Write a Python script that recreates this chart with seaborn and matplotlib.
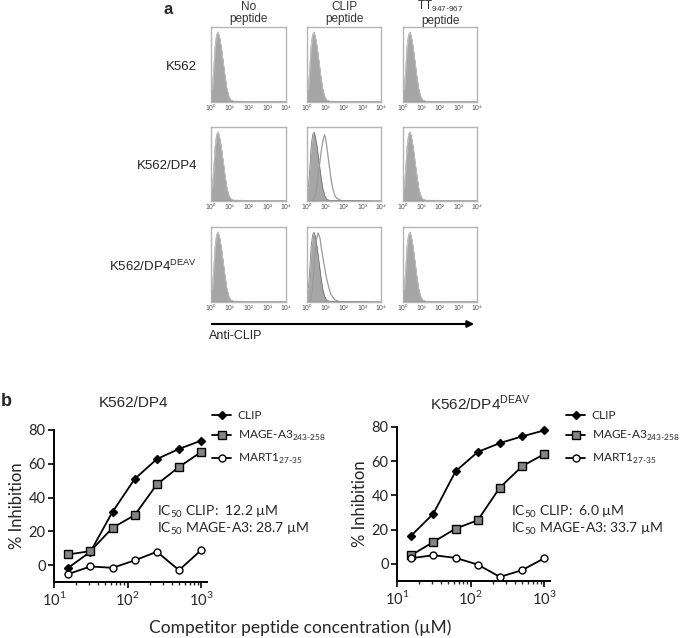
import matplotlib
matplotlib.use("Agg")
import matplotlib.pyplot as plt
import seaborn as sns

# ---- panel b data ----
conc = [15.6, 31.25, 62.5, 125, 250, 500, 1000]
dp4_clip = [-1.6, 7.9, 31.6, 51.0, 62.8, 68.8, 73.7]
dp4_mage = [6.3, 8.3, 22.1, 29.6, 47.8, 58.1, 67.0]
dp4_mart = [-5.3, -0.8, -1.6, 2.8, 7.9, -3.0, 8.9]
deav_clip = [16.5, 29.4, 54.1, 65.4, 70.6, 74.5, 78.0]
deav_mage = [5.1, 12.8, 20.6, 25.5, 44.6, 57.0, 64.2]
deav_mart = [3.3, 5.1, 3.5, -0.4, -7.6, -3.7, 3.3]
ic50_dp4 = ["12.2", "28.7"]
ic50_deav = ["6.0", "33.7"]

# ---- panel a data: histogram outlines (log10 fluorescence, relative count) ----
ctrl_x = [0.0, 0.08, 0.15, 0.22, 0.3, 0.38, 0.45, 0.55, 0.65, 0.75, 0.85, 0.95, 1.05, 1.2, 4.0]
ctrl_h = [0.16, 0.2, 0.45, 0.75, 0.92, 0.96, 0.9, 0.75, 0.55, 0.35, 0.18, 0.08, 0.03, 0.01, 0.0]
dp4_clip_x = [0.3, 0.4, 0.5, 0.6, 0.7, 0.8, 0.9, 0.95, 1.0, 1.1, 1.2, 1.3, 1.4, 1.5, 1.6, 1.8, 2.0]
dp4_clip_h = [0.0, 0.05, 0.15, 0.35, 0.55, 0.75, 0.88, 0.92, 0.88, 0.7, 0.5, 0.3, 0.17, 0.08, 0.04, 0.01, 0.0]
deav_clip_x = [0.2, 0.3, 0.4, 0.5, 0.55, 0.6, 0.7, 0.8, 0.9, 1.0, 1.1, 1.2, 1.3, 1.5, 1.8]
deav_clip_h = [0.02, 0.2, 0.55, 0.85, 0.9, 0.95, 0.88, 0.7, 0.55, 0.4, 0.28, 0.18, 0.1, 0.03, 0.0]
row_names = ["K562", "K562/DP4", r"K562/DP4$^{\mathregular{DEAV}}$"]
col_names = ["No\npeptide", "CLIP\npeptide", r"TT$_{\mathregular{947}\text{-}\mathregular{967}}$" + "\npeptide"]
decade_labels = ["10⁰", "10¹", "10²", "10³", "10⁴"]

sns.set_theme(style="ticks")
plt.rcParams["font.family"] = ["Lato", "DejaVu Sans"]
plt.rcParams["mathtext.fontset"] = "custom"
plt.rcParams["mathtext.rm"] = "Lato"

W, H = 685, 638
fig = plt.figure(figsize=(W / 100, H / 100), dpi=100)


def add_ax(x0, y0, x1, y1):
    return fig.add_axes([x0 / W, 1 - y1 / H, (x1 - x0) / W, (y1 - y0) / H])


def ftext(x, y, s, **kw):
    return fig.text(x / W, 1 - y / H, s, **kw)


arial = ["Liberation Sans", "DejaVu Sans"]

# ---------------- panel a ----------------
ftext(168, 9, "a", fontsize=12, fontweight="bold", family=arial, ha="center", va="center")
col_x = [(211, 286), (307, 381), (403, 477)]
row_y = [(27, 102), (127, 201), (227, 302)]
for j, name in enumerate(col_names):
    ftext(sum(col_x[j]) / 2, 13, name, fontsize=8.5, family=arial, ha="center",
          va="center", linespacing=1.05, color="#333333")
for i, name in enumerate(row_names):
    ftext(197, sum(row_y[i]) / 2 + 2, name, fontsize=9.5, family=arial,
          ha="right", va="center", color="#222222")
    for j in range(3):
        ax = add_ax(col_x[j][0], row_y[i][0], col_x[j][1], row_y[i][1])
        ax.fill_between(ctrl_x, ctrl_h, color="#a6a6a6", lw=0)
        ax.plot(ctrl_x, ctrl_h, color="#6a6a6a", lw=0.5)
        if j == 1 and i == 1:
            ax.plot(dp4_clip_x, dp4_clip_h, color="#9a9a9a", lw=0.9)
        elif j == 1 and i == 2:
            ax.plot(deav_clip_x, deav_clip_h, color="#9a9a9a", lw=0.9)
        else:
            ax.plot(ctrl_x, ctrl_h, color="#c4c4c4", lw=0.7)
        ax.axhline(0, color="#555555", lw=1.0)
        ax.set_xlim(0, 4)
        ax.set_ylim(0, 1.03)
        ax.set_xticks(range(5))
        ax.set_xticklabels(decade_labels, fontsize=5, color="#555555", family=arial)
        ax.set_yticks([])
        ax.tick_params(axis="x", length=0, pad=2)
        for s in ax.spines.values():
            s.set_color("#b5b5b5")
            s.set_linewidth(1)
        ax.set_facecolor("white")

arr = fig.add_axes([0, 0, 1, 1], facecolor="none")
arr.set_axis_off()
arr.set_xlim(0, W)
arr.set_ylim(H, 0)
arr.annotate("", xy=(477, 324), xytext=(209, 324),
             arrowprops=dict(arrowstyle="-|>", color="black", lw=1.5, mutation_scale=10))
ftext(209, 336, "Anti-CLIP", fontsize=9, family=arial, ha="left", va="center")

# ---------------- panel b ----------------
ftext(6, 402, "b", fontsize=13, fontweight="bold", family=arial, ha="center", va="center")

styles = [
    ("CLIP", "D", "black", 4.5),
    (r"MAGE-A3$_{\mathregular{243}\text{-}\mathregular{258}}$", "s", "#858585", 5.5),
    (r"MART1$_{\mathregular{27}\text{-}\mathregular{35}}$", "o", "white", 5),
]

panels = [
    ((54, 430, 207, 582), "K562/DP4", 133, [dp4_clip, dp4_mage, dp4_mart], ic50_dp4, 157, 212),
    ((397, 427, 550, 581), r"K562/DP4$^{\mathregular{DEAV}}$", 480,
     [deav_clip, deav_mage, deav_mart], ic50_deav, 511, 566),
]

for box, title, tx, series, ic, icx, legx in panels:
    ax = add_ax(*box)
    for (lab, mk, fc, ms), vals in zip(styles, series):
        sns.lineplot(x=conc, y=vals, ax=ax, color="black", lw=1.3, marker=mk,
                     markersize=ms, markerfacecolor=fc, markeredgecolor="black",
                     markeredgewidth=1.0, label=lab, clip_on=False, zorder=3)
    ax.set_xscale("log")
    ax.set_xlim(10, 1200)
    ax.set_ylim(-10, 80)
    ax.set_yticks([0, 20, 40, 60, 80])
    ax.set_xticks([10, 100, 1000])
    ax.set_xticklabels(["10$^{\\mathregular{1}}$", "10$^{\\mathregular{2}}$", "10$^{\\mathregular{3}}$"])
    ax.tick_params(axis="both", labelsize=10.5, length=4, width=1.2, color="black", pad=2)
    ax.tick_params(axis="x", which="minor", length=2.5, width=1)
    ax.set_ylabel("% Inhibition", fontsize=12, labelpad=3)
    ax.set_xlabel("")
    for s in ["top", "right"]:
        ax.spines[s].set_visible(False)
    for s in ["left", "bottom"]:
        ax.spines[s].set_linewidth(1.4)
        ax.spines[s].set_color("black")
    h, l = ax.get_legend_handles_labels()
    ax.legend_.remove()
    fig.legend(h, l, loc="upper left", bbox_to_anchor=(legx / W, 1 - 410 / H),
               frameon=False, fontsize=8.6, handlelength=1.6, handletextpad=0.55,
               labelspacing=0.7, borderaxespad=0, borderpad=0)
    ftext(tx, 403, title, fontsize=11, family=arial, ha="center", va="center")
    ftext(icx, 512, r"IC$_{\mathregular{50}}$ CLIP:  " + ic[0] + " µM", fontsize=10,
          ha="left", va="center")
    ftext(icx, 529, r"IC$_{\mathregular{50}}$ MAGE-A3: " + ic[1] + " µM", fontsize=10,
          ha="left", va="center")

ftext(300, 628, "Competitor peptide concentration (µM)", fontsize=12.5, ha="center", va="center")

fig.savefig("out.png", dpi=100)
